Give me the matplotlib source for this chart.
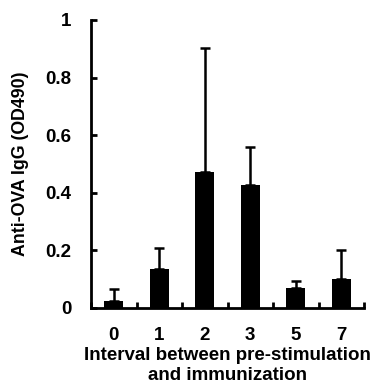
import matplotlib
matplotlib.use("Agg")
import matplotlib.pyplot as plt
import numpy as np

categories = ["0", "1", "2", "3", "5", "7"]
means = [0.025, 0.137, 0.473, 0.427, 0.070, 0.102]
errors = [0.041, 0.071, 0.430, 0.132, 0.024, 0.100]
yticks = [0, 0.2, 0.4, 0.6, 0.8, 1]
ytick_labels = ["0", "0.2", "0.4", "0.6", "0.8", "1"]

plt.rcParams['font.family'] = ['Liberation Sans', 'DejaVu Sans']
plt.rcParams['font.weight'] = 'bold'

fig = plt.figure(figsize=(3.75, 3.83), dpi=100)
ax = fig.add_axes([91/375, 1-308/383, (364-91)/375, (308-20)/383])

x = np.arange(len(categories))
ax.bar(x, means, width=0.42, color='black', zorder=2)
ax.errorbar(x, means, yerr=[np.zeros(len(errors)), errors], fmt='none',
            ecolor='black', elinewidth=1.8, capsize=3.5, capthick=1.8, zorder=1)

ax.set_xlim(-0.5, len(categories) - 0.5)
ax.set_ylim(0, 1)
ax.set_yticks(yticks)
ax.set_yticklabels(ytick_labels, fontsize=13.5, fontweight='bold')
ax.set_xticks(x)
ax.set_xticklabels(categories, fontsize=13.5, fontweight='bold')
ax.set_xticks(np.arange(-0.5, len(categories)), minor=True)
ax.tick_params(axis='x', which='major', length=0, pad=14)
ax.tick_params(axis='x', which='minor', direction='in', length=4, width=2)
ax.tick_params(axis='y', which='major', direction='in', length=4, width=2, pad=14)

for s in ['top', 'right']:
    ax.spines[s].set_visible(False)
for s in ['left', 'bottom']:
    ax.spines[s].set_linewidth(2)

ax.set_xlabel("Interval between pre-stimulation\nand immunization", fontsize=13.5,
              fontweight='bold', labelpad=2, linespacing=1.2)
ax.set_ylabel("Anti-OVA IgG (OD490)", fontsize=12.8, fontweight='bold', labelpad=12)

fig.savefig("out.png", dpi=100)
